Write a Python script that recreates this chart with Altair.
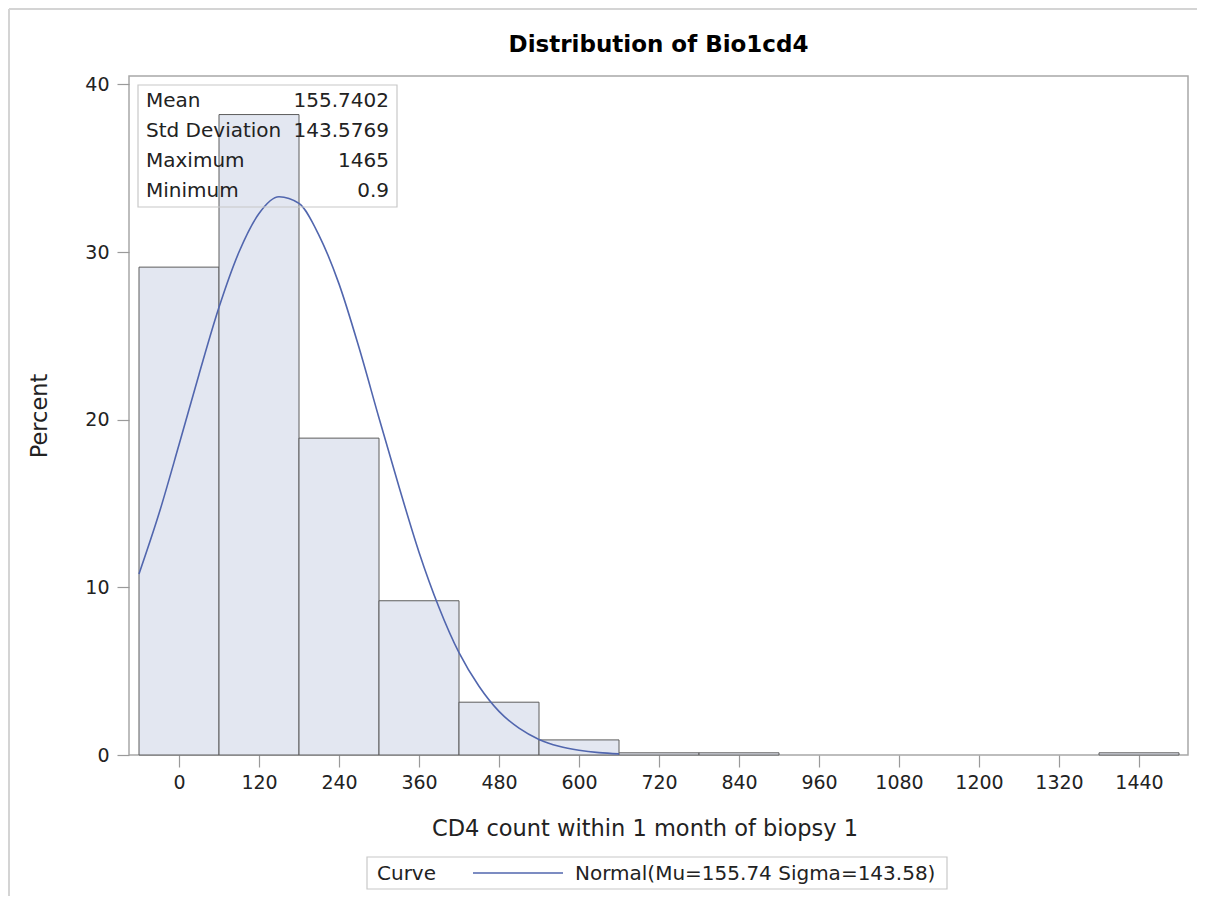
import altair as alt
import pandas as pd

# ---- data ----
bin_centers = [0, 120, 240, 360, 480, 600, 720, 840, 960, 1080, 1200, 1320, 1440]
bin_width = 120
percents = [29.1, 38.2, 18.9, 9.2, 3.15, 0.9, 0.13, 0.13, 0, 0, 0, 0, 0.13]

curve_x = [-60, -30, 0, 30, 60, 90, 120, 150, 180, 210, 240, 270, 300, 330,
           360, 390, 420, 450, 480, 510, 540, 570, 600, 630, 660]
curve_y = [10.8, 14.4, 18.5, 22.7, 26.7, 30.0, 32.3, 33.3, 32.9, 31.0, 28.1,
           24.3, 20.1, 16.0, 12.1, 8.8, 6.1, 4.1, 2.6, 1.6, 0.93, 0.52, 0.28,
           0.14, 0.07]

stat_labels = ["Mean", "Std Deviation", "Maximum", "Minimum"]
stat_values = ["155.7402", "143.5769", "1465", "0.9"]

x_ticks = [0, 120, 240, 360, 480, 600, 720, 840, 960, 1080, 1200, 1320, 1440]
y_ticks = [0, 10, 20, 30, 40]

title_text = "Distribution of Bio1cd4"
x_title = "CD4 count within 1 month of biopsy 1"
y_title = "Percent"
legend_label = "Curve"
legend_entry = "Normal(Mu=155.74 Sigma=143.58)"

# ---- styling ----
FONT = "DejaVu Sans"
W, H = 1059, 679
BAR_FILL = "#E3E7F1"
BAR_STROKE = "#5C5C5C"
CURVE = "#5166AE"
FRAME = "#A8A8A8"
TEXT = "#222222"
FS = 20

bars_df = pd.DataFrame({"center": bin_centers, "pct": percents})
curve_df = pd.DataFrame({"x": curve_x, "y": curve_y})
one = pd.DataFrame({"k": [0]})

xscale = alt.Scale(domain=[-75, 1513.5], nice=False, zero=False)
yscale = alt.Scale(domain=[0, 40.5], nice=False)

x_axis = alt.Axis(values=x_ticks, format="d", title=x_title, tickSize=12, labelPadding=6,
                  titlePadding=25, titleX=W / 2 - 14, grid=False, domain=False,
                  labelFlush=False)
y_axis = alt.Axis(values=y_ticks, format="d", title=y_title, tickSize=12, labelPadding=8,
                  titlePadding=33, grid=False, domain=False)

bars = alt.Chart(bars_df).transform_filter("datum.pct > 0").transform_calculate(
    start=f"datum.center - {bin_width}/2", end=f"datum.center + {bin_width}/2"
).mark_rect(fill=BAR_FILL, stroke=BAR_STROKE, strokeWidth=1).encode(
    x=alt.X("start:Q", scale=xscale, axis=x_axis),
    x2="end:Q",
    y=alt.Y("pct:Q", scale=yscale, axis=y_axis),
    y2=alt.datum(0),
)

curve = alt.Chart(curve_df).mark_line(color=CURVE, strokeWidth=1.6,
                                      interpolate="monotone").encode(
    x=alt.X("x:Q", scale=xscale),
    y=alt.Y("y:Q", scale=yscale),
)

layers = [bars, curve]

# stats inset
inset_box = alt.Chart(one).mark_rect(fill=None, stroke="#C8C8C8", strokeWidth=1.2).encode(
    x=alt.value(9), x2=alt.value(268), y=alt.value(9), y2=alt.value(131))
layers.append(inset_box)
for i, (lab, val) in enumerate(zip(stat_labels, stat_values)):
    yb = 31 + 30 * i
    layers.append(alt.Chart(one).mark_text(align="left", baseline="alphabetic", font=FONT,
                                           fontSize=FS, color=TEXT, text=lab).encode(
        x=alt.value(17), y=alt.value(yb)))
    layers.append(alt.Chart(one).mark_text(align="right", baseline="alphabetic", font=FONT,
                                           fontSize=FS, color=TEXT, text=val).encode(
        x=alt.value(260), y=alt.value(yb)))

# legend
layers.append(alt.Chart(one).mark_rect(fill=None, stroke="#C8C8C8", strokeWidth=1.2).encode(
    x=alt.value(238), x2=alt.value(818), y=alt.value(781), y2=alt.value(813)))
layers.append(alt.Chart(one).mark_text(align="left", baseline="alphabetic", font=FONT,
                                       fontSize=FS, color=TEXT, text=legend_label).encode(
    x=alt.value(248), y=alt.value(804)))
layers.append(alt.Chart(one).mark_rule(color=CURVE, strokeWidth=1.5).encode(
    x=alt.value(344), x2=alt.value(434), y=alt.value(797)))
layers.append(alt.Chart(one).mark_text(align="left", baseline="alphabetic", font=FONT,
                                       fontSize=FS, color=TEXT, text=legend_entry).encode(
    x=alt.value(446), y=alt.value(804)))

# title
layers.append(alt.Chart(one).mark_text(align="center", baseline="alphabetic", font=FONT,
                                       fontSize=23, fontWeight="bold", color="#000000",
                                       text=title_text).encode(
    x=alt.value(W / 2), y=alt.value(-24)))

# outer graph border (top and left)
layers.append(alt.Chart(one).mark_rule(color="#D4D4D4", strokeWidth=2).encode(
    x=alt.value(-120), x2=alt.value(W + 10), y=alt.value(-67)))
layers.append(alt.Chart(one).mark_rule(color="#D4D4D4", strokeWidth=2).encode(
    x=alt.value(-120), y=alt.value(-67), y2=alt.value(H + 141)))

chart = alt.layer(*layers).properties(
    width=W, height=H,
    autosize=alt.AutoSizeParams(type="none"),
    padding={"left": 121, "top": 68, "right": 9, "bottom": 141},
).configure_view(stroke=FRAME, strokeWidth=1.5).configure_axis(
    labelFont=FONT, labelFontSize=19, labelColor=TEXT,
    titleFont=FONT, titleFontSize=22.5, titleFontWeight="normal", titleColor=TEXT,
    tickColor="#9A9A9A", tickWidth=1.2,
)

chart.save("out.html", embed_options={"renderer": "svg", "actions": False})
